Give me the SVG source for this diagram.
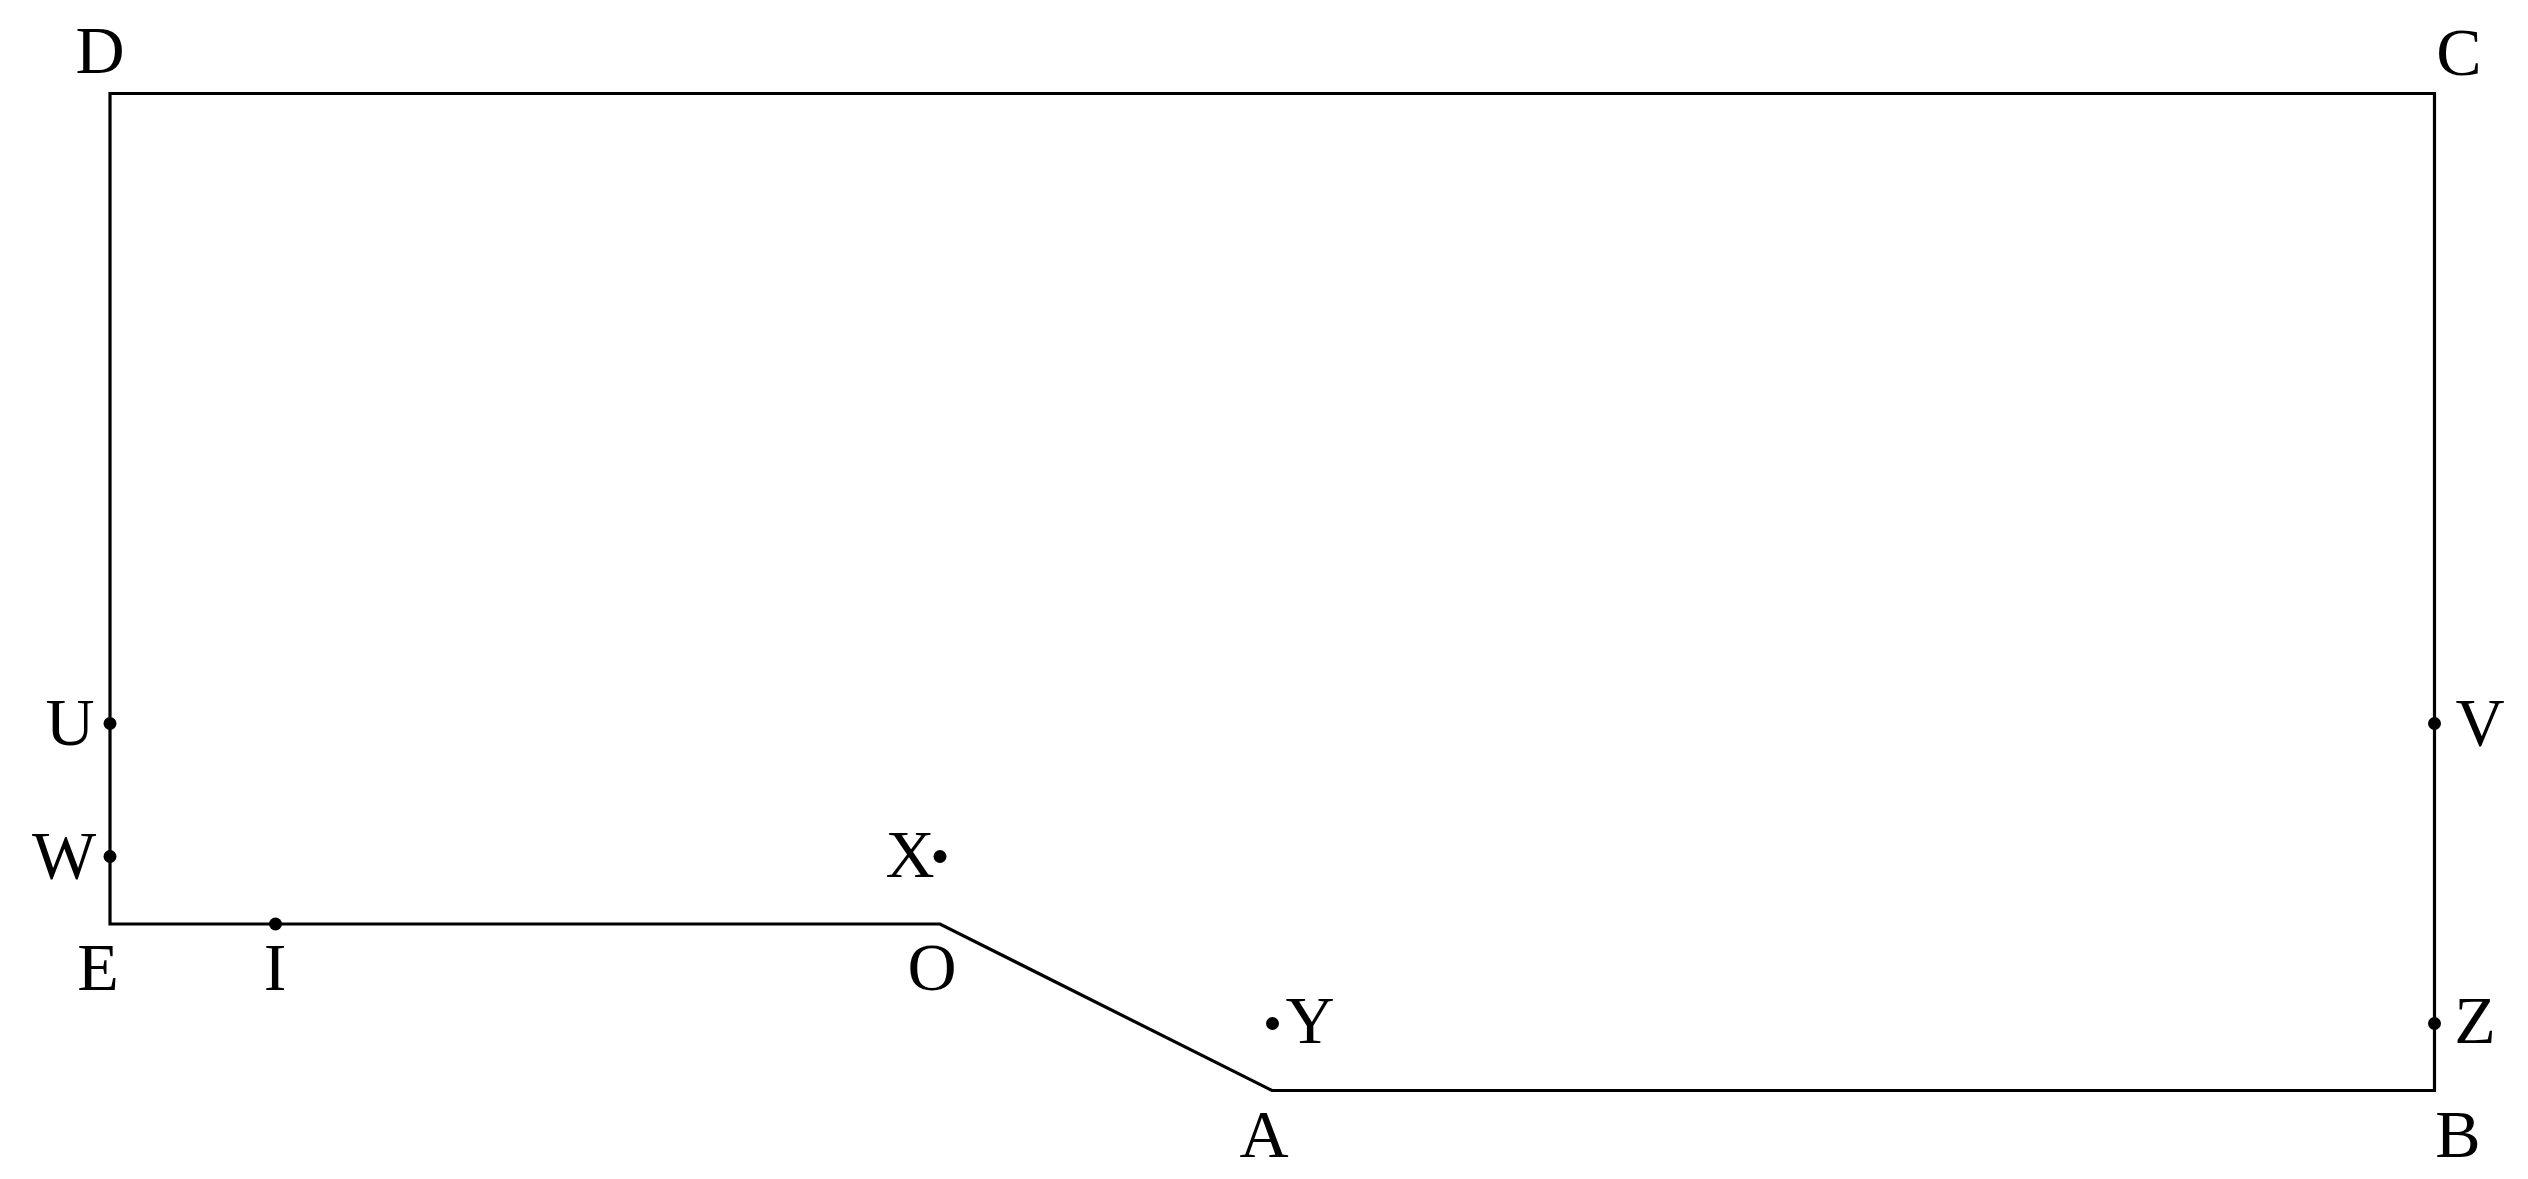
<svg xmlns="http://www.w3.org/2000/svg" width="2528" height="1179" viewBox="0 0 2528 1179">
<style>
.lbl{font-family:"Liberation Serif","Times New Roman",serif;font-size:68px;fill:#000;text-anchor:middle}
.pt{fill:#000}
.edge{fill:none;stroke:#000;stroke-width:3.2;stroke-linejoin:miter}
</style>
<rect width="2528" height="1179" fill="#fff"/>
<g id="connectors">
<polygon class="edge" points="110,93.5 2434.5,93.5 2434.5,1090.5 1272,1090.5 940,924 110,924"/>
</g>
<g id="D"><text class="lbl" x="100" y="73">D</text></g>
<g id="C"><text class="lbl" x="2459" y="75">C</text></g>
<g id="U"><circle class="pt" cx="110" cy="723.5" r="6.5"/><text class="lbl" x="70" y="745">U</text></g>
<g id="W"><circle class="pt" cx="110" cy="856.5" r="6.5"/><text class="lbl" x="64" y="878">W</text></g>
<g id="E"><text class="lbl" x="98" y="990">E</text></g>
<g id="I"><circle class="pt" cx="275.5" cy="924" r="6.5"/><text class="lbl" x="275" y="990">I</text></g>
<g id="O"><text class="lbl" x="932" y="990">O</text></g>
<g id="X"><circle class="pt" cx="940" cy="856.5" r="6.5"/><text class="lbl" x="910" y="877">X</text></g>
<g id="Y"><circle class="pt" cx="1272.5" cy="1023.5" r="6.5"/><text class="lbl" x="1310" y="1043">Y</text></g>
<g id="A"><text class="lbl" x="1264" y="1157">A</text></g>
<g id="B"><text class="lbl" x="2458" y="1157">B</text></g>
<g id="V"><circle class="pt" cx="2434.5" cy="723.5" r="6.5"/><text class="lbl" x="2480" y="745">V</text></g>
<g id="Z"><circle class="pt" cx="2434.5" cy="1023.5" r="6.5"/><text class="lbl" x="2475" y="1043">Z</text></g>
</svg>
